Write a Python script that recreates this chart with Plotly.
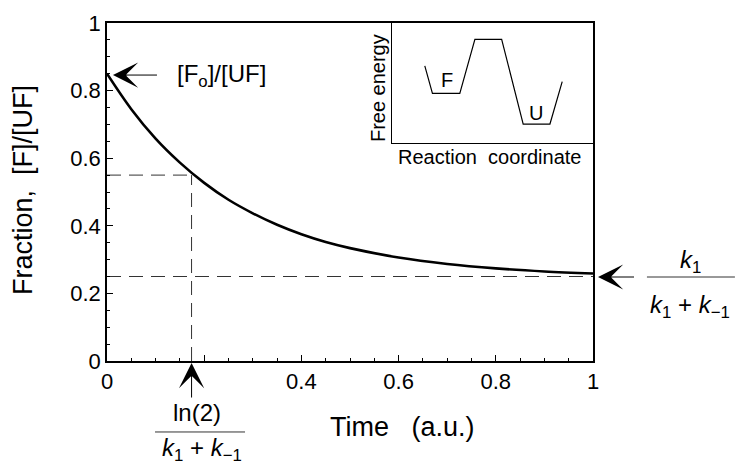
import plotly.graph_objects as go

# ---- data ----
time = [0, 0.05, 0.1, 0.15, 0.2, 0.25, 0.3, 0.35, 0.4, 0.45, 0.5, 0.6, 0.7, 0.8, 0.9, 1.0]
fraction = [0.85, 0.745, 0.658, 0.587, 0.527, 0.477, 0.437, 0.403, 0.375, 0.352, 0.334, 0.306, 0.287, 0.274, 0.265, 0.259]

half_time = 0.174
half_value = 0.55
equilibrium = 0.25

# inset energy profile (arbitrary units)
coord = [0.164, 0.202, 0.338, 0.413, 0.546, 0.653, 0.786, 0.847]
energy = [0.642, 0.414, 0.414, 0.864, 0.864, 0.158, 0.158, 0.511]

x_tickvals = [0, 0.2, 0.4, 0.6, 0.8, 1]
x_ticktext = ["0", "", "0.4", "0.6", "0.8", "1"]
y_tickvals = [0, 0.2, 0.4, 0.6, 0.8, 1]
y_ticktext = ["0", "0.2", "0.4", "0.6", "0.8", "1"]

FONT = "Liberation Sans, Arial, Helvetica, sans-serif"
dash = "14px,8px"

fig = go.Figure()
fig.add_trace(go.Scatter(x=[0, half_time], y=[half_value, half_value], mode="lines",
                         line=dict(color="#333", width=1, dash=dash), hoverinfo="skip"))
fig.add_trace(go.Scatter(x=[half_time, half_time], y=[0, half_value], mode="lines",
                         line=dict(color="#333", width=1, dash=dash), hoverinfo="skip"))
fig.add_trace(go.Scatter(x=[0, 1], y=[equilibrium, equilibrium], mode="lines",
                         line=dict(color="#333", width=1, dash=dash), hoverinfo="skip"))
fig.add_trace(go.Scatter(x=time, y=fraction, mode="lines",
                         line=dict(color="black", width=2.6, shape="spline"), cliponaxis=False))
fig.add_trace(go.Scatter(x=coord, y=energy, mode="lines", xaxis="x2", yaxis="y2",
                         line=dict(color="black", width=1.2)))

axis_common = dict(showline=True, linecolor="black", linewidth=1.5, mirror=True,
                   showgrid=False, zeroline=False, ticks="inside", ticklen=6,
                   tickwidth=1, tickcolor="black",
                   tickfont=dict(family=FONT, size=22, color="black"))

fig.update_layout(
    width=735, height=464,
    margin=dict(l=107, r=142, t=23, b=103),
    paper_bgcolor="white", plot_bgcolor="white",
    showlegend=False,
    font=dict(family=FONT, color="black"),
    xaxis=dict(range=[0, 1], tickvals=x_tickvals, ticktext=x_ticktext,
               minor=dict(dtick=0.05, ticks="inside", ticklen=3, tickcolor="black"),
               **axis_common),
    yaxis=dict(range=[0, 1], tickvals=y_tickvals, ticktext=y_ticktext,
               minor=dict(dtick=0.05, ticks="inside", ticklen=3, tickcolor="black"),
               **axis_common),
    xaxis2=dict(domain=[0.586, 1], range=[0, 1], anchor="y2", showline=True, mirror=True,
                linecolor="black", linewidth=1.2, showticklabels=False, ticks="",
                showgrid=False, zeroline=False),
    yaxis2=dict(domain=[0.645, 1], range=[0, 1], anchor="x2", showline=True, mirror=True,
                linecolor="black", linewidth=1.2, showticklabels=False, ticks="",
                showgrid=False, zeroline=False),
)

fig.add_shape(type="rect", xref="x2 domain", yref="y2 domain", x0=0, x1=1, y0=0, y1=1,
              fillcolor="white", line=dict(width=0), layer="below")

ann = []
def txt(text, x, y, size, xref="paper", yref="paper", angle=0, xanchor="center"):
    ann.append(dict(text=text, x=x, y=y, xref=xref, yref=yref, showarrow=False,
                    textangle=angle, xanchor=xanchor, yanchor="middle",
                    font=dict(family=FONT, size=size, color="black")))

def arrow(x, y, ax, ay):
    ann.append(dict(text=" ", x=x, y=y, xref="paper", yref="paper", ax=ax, ay=ay,
                    showarrow=True, arrowhead=3, arrowsize=4.2, arrowwidth=1,
                    arrowcolor="black", standoff=0, font=dict(size=2)))

txt("Fraction,  [F]/[UF]", -0.1728, 0.506, 27, angle=-90)
txt("Time   (a.u.)", 0.609, -0.195, 27)
txt("[F<sub>o</sub>]/[UF]", 0.140, 0.845, 24, xanchor="left")
txt("ln(2)", 0.185, -0.151, 24)
txt("<i>k</i><sub>1</sub> + <i>k</i><sub>−1</sub>", 0.195, -0.262, 24)
txt("<i>k</i><sub>1</sub>", 1.2, 0.293, 24)
txt("<i>k</i><sub>1</sub> + <i>k</i><sub>−1</sub>", 1.2, 0.16, 24)
txt("Free energy", 0.558, 0.808, 20, angle=-90)
txt("Reaction  coordinate", 0.788, 0.604, 20)
txt("F", 0.272, 0.525, 20, xref="x2", yref="y2")
txt("U", 0.716, 0.25, 20, xref="x2", yref="y2")

arrow(0.0123, 0.846, 46, 0)
arrow(half_time, -0.006, 0, 37)
arrow(1.0103, 0.2485, 38, 0)

fig.update_layout(annotations=ann)

fig.add_shape(type="line", xref="paper", yref="paper", x0=0.0988, x1=0.284, y0=-0.21, y1=-0.21,
              line=dict(color="#333", width=1))
fig.add_shape(type="line", xref="paper", yref="paper", x0=1.111, x1=1.292, y0=0.2485, y1=0.2485,
              line=dict(color="#333", width=1))

fig.write_html("out.html")
